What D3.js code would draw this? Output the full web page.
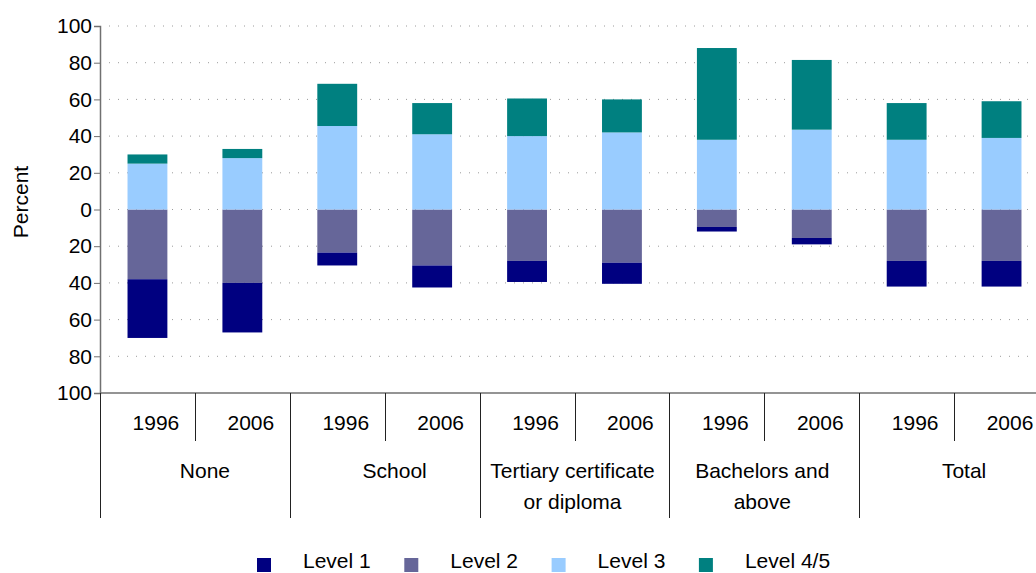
<!DOCTYPE html>
<html>
<head>
<meta charset="utf-8">
<script src="https://cdn.jsdelivr.net/npm/d3@7"></script>
<style>
  body { margin: 0; background: white; }
  svg { display: block; font-family: "Liberation Sans", Arial, sans-serif; }
</style>
</head>
<body>
<div id="chart"></div>
<script>
const groups = ["None", "School", "Tertiary certificate|or diploma", "Bachelors and|above", "Total"],
    years = ["1996", "2006"];

// percent of people at each literacy level (levels 1 and 2 drawn below zero)
const level1 = [32, 27, 7, 12, 11.5, 11.5, 2.5, 3.5, 14, 14],
    level2 = [38, 40, 23.5, 30.5, 28, 29, 9.5, 15.5, 28, 28],
    level3 = [25, 28, 45.5, 41, 40, 42, 38, 43.5, 38, 39],
    level45 = [5, 5, 23, 17, 20.5, 18, 50, 38, 20, 20];

const yTicks = [100, 80, 60, 40, 20, 0, -20, -40, -60, -80, -100];
const legendNames = ["Level 1", "Level 2", "Level 3", "Level 4/5"];
const colors = {l1: "#000080", l2: "#666699", l3: "#99ccff", l4: "#008080"};

const width = 1036, height = 573;

const svg = d3.select("#chart").append("svg")
    .attr("width", width)
    .attr("height", height);

// one row per bar
var rows = [];
groups.forEach((g, gi) => years.forEach((yr, yi) => {
    var i = gi * years.length + yi;
    rows.push({key: gi + "-" + yr, group: gi, year: yr,
        l1: -level1[i], l2: -level2[i], l3: level3[i], l4: level45[i]});
}));

const x = d3.scaleBand()
    .domain(rows.map(d => d.key))
    .range([100, 1049]);

const xGroup = d3.scaleBand()
    .domain(d3.range(groups.length))
    .range([100, 1049]);

const y = d3.scaleLinear()
    .domain([-100, 100])
    .range([393, 26]);

const barW = x.bandwidth() * 0.42;

// dotted gridlines
svg.append("g").selectAll("line")
    .data(yTicks.filter(d => d > -100))
    .join("line")
    .attr("x1", 109)
    .attr("x2", width)
    .attr("y1", d => y(d))
    .attr("y2", d => y(d))
    .attr("stroke", "#9a9a9a")
    .attr("stroke-width", 1)
    .attr("stroke-dasharray", "1,8");

// stacked bars, diverging around zero
const stack = d3.stack()
    .keys(["l2", "l1", "l3", "l4"])
    .offset(d3.stackOffsetDiverging);

svg.append("g").selectAll("g")
    .data(stack(rows))
    .join("g")
    .attr("fill", s => colors[s.key])
    .selectAll("rect")
    .data(s => s)
    .join("rect")
    .attr("x", d => x(d.data.key) + (x.bandwidth() - barW) / 2)
    .attr("width", barW)
    .attr("y", d => y(Math.max(d[0], d[1])))
    .attr("height", d => Math.abs(y(d[0]) - y(d[1])));

// y axis
const yAxis = svg.append("g")
    .attr("transform", "translate(100,0)")
    .call(d3.axisLeft(y).tickValues(yTicks).tickSize(6).tickFormat(d => Math.abs(d)));

yAxis.select(".domain").attr("stroke", "#707070").attr("stroke-width", 1.5);
yAxis.selectAll(".tick line").attr("stroke", "#707070");
yAxis.selectAll(".tick text")
    .attr("x", -8)
    .attr("font-size", 21)
    .attr("font-family", "Liberation Sans, Arial, sans-serif")
    .attr("fill", "#000");

svg.append("text")
    .attr("transform", "translate(28,202) rotate(-90)")
    .attr("text-anchor", "middle")
    .attr("font-size", 21)
    .text("Percent");

// category axis
svg.append("line")
    .attr("x1", 100).attr("x2", width)
    .attr("y1", y(-100)).attr("y2", y(-100))
    .attr("stroke", "#707070")
    .attr("stroke-width", 1.5);

const sep = svg.append("g").attr("stroke", "#222").attr("stroke-width", 1);

sep.selectAll(".major")
    .data(d3.range(groups.length))
    .join("line")
    .attr("class", "major")
    .attr("x1", d => Math.round(xGroup(d)) + 0.5)
    .attr("x2", d => Math.round(xGroup(d)) + 0.5)
    .attr("y1", y(-100))
    .attr("y2", 518);

sep.selectAll(".minor")
    .data(rows.filter(d => d.year !== years[0]))
    .join("line")
    .attr("class", "minor")
    .attr("x1", d => Math.round(x(d.key)) + 0.5)
    .attr("x2", d => Math.round(x(d.key)) + 0.5)
    .attr("y1", y(-100))
    .attr("y2", 441);

svg.append("g").selectAll("text")
    .data(rows)
    .join("text")
    .attr("x", d => x(d.key) + x.bandwidth() / 2 + 8.5)
    .attr("y", 430)
    .attr("text-anchor", "middle")
    .attr("font-size", 21)
    .text(d => d.year);

svg.append("g").selectAll("text")
    .data(groups)
    .join("text")
    .attr("x", (d, i) => xGroup(i) + xGroup.bandwidth() / 2 + (d.includes("|") ? -2 : 10))
    .attr("y", 477.5)
    .attr("text-anchor", "middle")
    .attr("font-size", 21)
    .selectAll("tspan")
    .data(d => d.split("|"))
    .join("tspan")
    .attr("x", function() { return this.parentNode.getAttribute("x"); })
    .attr("dy", (d, i) => i === 0 ? 0 : 31)
    .text(d => d);

// legend
const legend = svg.append("g").selectAll("g")
    .data(legendNames)
    .join("g")
    .attr("transform", (d, i) => `translate(${257 + i * 147.3},0)`);

legend.append("rect")
    .attr("y", 558)
    .attr("width", 14)
    .attr("height", 14)
    .attr("fill", (d, i) => colors[["l1", "l2", "l3", "l4"][i]]);

legend.append("text")
    .attr("x", 46)
    .attr("y", 568)
    .attr("font-size", 21)
    .text(d => d);
</script>
</body>
</html>
